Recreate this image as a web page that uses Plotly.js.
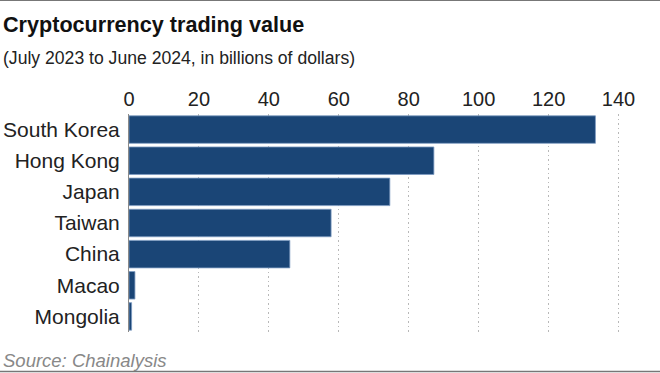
<!DOCTYPE html>
<html>
<head>
<meta charset="utf-8">
<script src="https://cdn.plot.ly/plotly-3.0.1.min.js"></script>
<style>
html,body{margin:0;padding:0;background:#fff;}
#chart{width:660px;height:373px;}
</style>
</head>
<body>
<div id="chart"></div>
<script>
// Data
var countries = ["South Korea", "Hong Kong", "Japan", "Taiwan", "China", "Macao", "Mongolia"];
var values = [133.4, 87.2, 74.6, 57.8, 46.0, 1.7, 0.75];
var tickVals = [0, 20, 40, 60, 80, 100, 120, 140];

var W = 660, H = 373;
var L = 129, R = 38, T = 114, B = 41;
var pw = W - L - R, ph = H - T - B;
var font = "Liberation Sans, Arial, sans-serif";

var trace = {
  type: "bar",
  orientation: "h",
  y: countries,
  x: values,
  marker: { color: "#1a4576", line: { color: "#7d9cc2", width: 0.8 } },
  hoverinfo: "skip"
};

var layout = {
  width: W, height: H,
  margin: { l: L, r: R, t: T, b: B, pad: 0 },
  paper_bgcolor: "#fff", plot_bgcolor: "#fff",
  showlegend: false,
  bargap: 0.117,
  font: { family: font, color: "#222" },
  xaxis: {
    side: "top",
    range: [0, 141],
    tickvals: tickVals,
    ticktext: tickVals.map(String),
    tickfont: { size: 20, color: "#222", family: font },
    showgrid: true, gridcolor: "#b8b8b8", griddash: "1.5px,3px", gridwidth: 1,
    zeroline: false, showline: false, ticks: "",
    ticklabelstandoff: 3,
    fixedrange: true
  },
  yaxis: {
    categoryorder: "array", categoryarray: countries.slice().reverse(),
    tickfont: { size: 21, color: "#222", family: font },
    ticks: "", showgrid: false, zeroline: false,
    showline: true, linecolor: "#8a8a8a", linewidth: 1,
    ticklabelstandoff: 4,
    fixedrange: true
  },
  shapes: [
    { type: "line", xref: "paper", yref: "paper", x0: -L / pw, x1: (W - L) / pw, y0: 1 + T / ph, y1: 1 + T / ph, line: { color: "#777", width: 2 } },
    { type: "line", xref: "paper", yref: "paper", x0: -L / pw, x1: (W - L) / pw, y0: -(B - 1.5) / ph, y1: -(B - 1.5) / ph, line: { color: "#777", width: 1.5 } }
  ],
  annotations: [
    { text: "<b>Cryptocurrency trading value</b>", xref: "paper", yref: "paper",
      x: -(L - 1) / pw, y: 1 + (T - 25) / ph, xanchor: "left", yanchor: "middle", showarrow: false,
      font: { size: 21.6, color: "#111", family: font } },
    { text: "(July 2023 to June 2024, in billions of dollars)", xref: "paper", yref: "paper",
      x: -(L - 1) / pw, y: 1 + (T - 58) / ph, xanchor: "left", yanchor: "middle", showarrow: false,
      font: { size: 17.6, color: "#222", family: font } },
    { text: "<i>Source: Chainalysis</i>", xref: "paper", yref: "paper",
      x: -(L - 1) / pw, y: -(360 - (H - B)) / ph, xanchor: "left", yanchor: "middle", showarrow: false,
      font: { size: 18.5, color: "#888", family: font } }
  ]
};

Plotly.newPlot("chart", [trace], layout, { staticPlot: true, displayModeBar: false });
</script>
</body>
</html>
